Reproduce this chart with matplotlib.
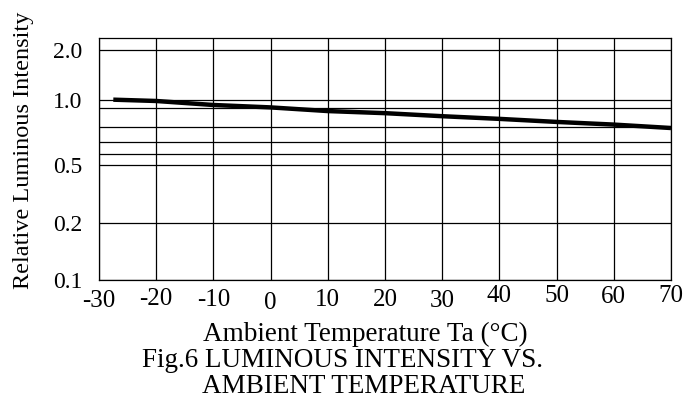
import numpy as np
import matplotlib
matplotlib.use("Agg")
import matplotlib.pyplot as plt
from matplotlib.transforms import ScaledTranslation

# data
temperature = [-27.5, -20, -10, 0, 10, 20, 30, 40, 50, 60, 70]
intensity = [1.01, 0.99, 0.94, 0.91, 0.885, 0.874, 0.858, 0.844, 0.828, 0.814, 0.795]

x_ticks = [-30, -20, -10, 0, 10, 20, 30, 40, 50, 60, 70]
y_ticks = [0.1, 0.2, 0.5, 1.0, 2.0]
y_tick_labels = ["0.1", "0.2", "0.5", "1.0", "2.0"]
y_minor = [0.6, 0.7, 0.8, 0.9]

# the printed grid is not a true log scale, so map values onto the drawn grid
knot_vals = np.array([0.1, 0.2, 0.5, 0.6, 0.7, 0.8, 0.9, 1.0, 2.0, 2.4])
knot_pos = np.array([0, 57, 114, 125, 137, 152, 171, 179, 229, 241], dtype=float)


def forward(v):
    return np.interp(v, knot_vals, knot_pos)


def inverse(p):
    return np.interp(p, knot_pos, knot_vals)


plt.rcParams['font.family'] = ['Liberation Serif', 'DejaVu Serif']

W, H = 695, 409
fig = plt.figure(figsize=(W / 100, H / 100), dpi=100)
ax = fig.add_axes([99 / W, 1 - 279.7 / H, (671 - 99) / W, (279.7 - 38) / H])

ax.set_yscale('function', functions=(forward, inverse))
ax.set_xlim(-30, 70)
ax.set_ylim(0.1, 2.4)

ax.set_xticks(x_ticks)
ax.set_xticklabels([str(t) for t in x_ticks], fontsize=18)
ax.set_yticks(y_ticks)
ax.set_yticklabels(y_tick_labels, fontsize=17)
ax.set_yticks(y_minor, minor=True)
ax.yaxis.set_minor_formatter(plt.NullFormatter())
ax.tick_params(which='both', length=0)
ax.tick_params(axis='x', pad=6.5)
ax.tick_params(axis='y', pad=12)

ax.grid(True, which='both', color='black', linewidth=0.9)
for s in ax.spines.values():
    s.set_color('black')
    s.set_linewidth(0.9)

ax.plot(temperature, intensity, color='black', linewidth=3.2, solid_capstyle='butt')

# the tick labels in the original sit at slightly uneven heights
jitter = [-1, 1, 0, -3, 0, 0, -1, 4, 4, 3, 4]
for lab, dy in zip(ax.get_xticklabels(), jitter):
    lab.set_transform(lab.get_transform() + ScaledTranslation(0, dy / 100, fig.dpi_scale_trans))

fig.text(24 / W, 1 - 150 / H, 'Relative Luminous Intensity', rotation=90,
         ha='center', va='center', fontsize=17.5)

fig.text(203 / W, 1 - 341 / H, 'Ambient Temperature Ta (°C)', ha='left', va='baseline', fontsize=19.5)
fig.text(142 / W, 1 - 367 / H, 'Fig.6 LUMINOUS INTENSITY VS.', ha='left', va='baseline', fontsize=19.5)
fig.text(202 / W, 1 - 393 / H, 'AMBIENT TEMPERATURE', ha='left', va='baseline', fontsize=19.5)

fig.savefig('out.png', dpi=100)
